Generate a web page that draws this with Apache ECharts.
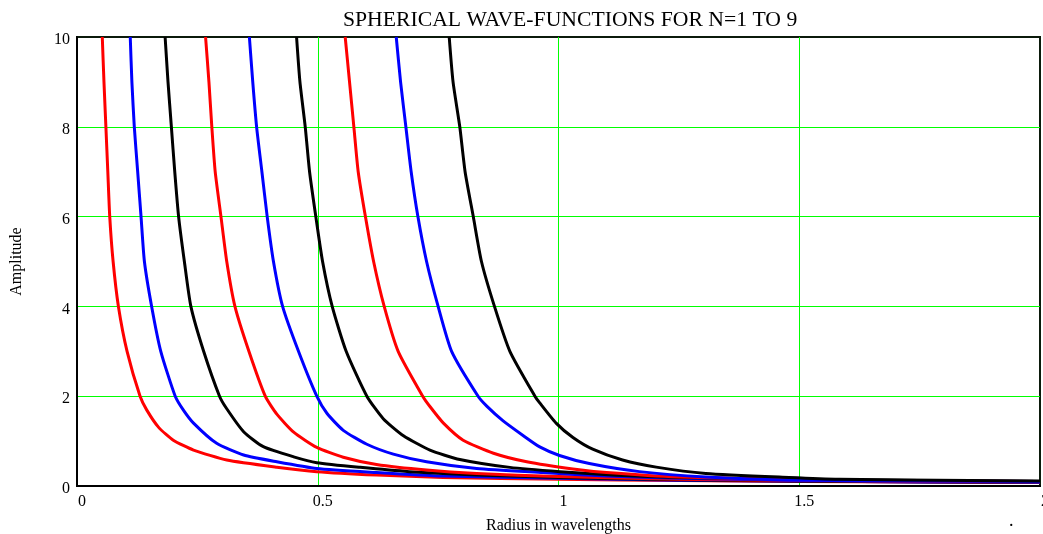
<!DOCTYPE html>
<html>
<head>
<meta charset="utf-8">
<script src="https://cdn.jsdelivr.net/npm/echarts@6/dist/echarts.min.js"></script>
<style>
  html, body { margin: 0; padding: 0; background: #ffffff; }
  #chart { width: 1043px; height: 534px; }
</style>
</head>
<body>
<div id="chart"></div>
<script>
// ---- Data: [radius in wavelengths, amplitude] ----
const titleText = 'SPHERICAL WAVE-FUNCTIONS FOR N=1 TO 9';
const xName = 'Radius in wavelengths';
const yName = 'Amplitude';
const seriesNames = ['N=1', 'N=2', 'N=3', 'N=4', 'N=5', 'N=6', 'N=7', 'N=8', 'N=9'];
const seriesColors = ['#ff0000', '#0000ff', '#000000', '#ff0000', '#0000ff', '#000000', '#ff0000', '#0000ff', '#000000'];

const n1 = [[0.0525,10],[0.056,9],[0.060,8],[0.064,7],[0.068,6],[0.075,5],[0.086,4],[0.104,3],[0.131,2],[0.145,1.69],[0.17,1.3],[0.20,1.02],[0.242,0.80],[0.311,0.58],[0.415,0.42],[0.498,0.32],[0.622,0.245],[0.76,0.19],[1.0,0.15],[1.25,0.12],[1.5,0.10],[1.75,0.09],[2.0,0.08]];
const n2 = [[0.1106,10],[0.114,9],[0.119,8],[0.126,7],[0.133,6],[0.140,5],[0.155,4],[0.174,3],[0.204,2],[0.221,1.69],[0.242,1.40],[0.29,0.95],[0.346,0.69],[0.415,0.54],[0.498,0.39],[0.622,0.30],[0.76,0.22],[1.0,0.17],[1.25,0.13],[1.5,0.11],[1.75,0.09],[2.0,0.08]];
const n3 = [[0.183,10],[0.189,9],[0.196,8],[0.203,7],[0.211,6],[0.223,5],[0.2365,4],[0.263,3],[0.296,2],[0.311,1.72],[0.346,1.21],[0.387,0.875],[0.45,0.65],[0.498,0.52],[0.588,0.415],[0.69,0.32],[0.83,0.245],[1.0,0.19],[1.25,0.14],[1.5,0.11],[1.75,0.095],[2.0,0.085]];
const n4 = [[0.267,10],[0.274,9],[0.280,8],[0.287,7],[0.299,6],[0.311,5],[0.328,4],[0.357,3],[0.391,2],[0.415,1.6],[0.45,1.2],[0.498,0.86],[0.553,0.64],[0.622,0.48],[0.726,0.356],[0.83,0.28],[1.0,0.21],[1.25,0.15],[1.5,0.12],[1.75,0.10],[2.0,0.09]];
const n5 = [[0.358,10],[0.365,9],[0.373,8],[0.384,7],[0.395,6],[0.408,5],[0.427,4],[0.460,3],[0.498,2],[0.519,1.62],[0.553,1.24],[0.602,0.93],[0.657,0.71],[0.726,0.54],[0.83,0.39],[0.968,0.30],[1.1,0.22],[1.25,0.17],[1.5,0.13],[1.75,0.11],[2.0,0.09]];
const n6 = [[0.456,10],[0.463,9],[0.474,8],[0.483,7],[0.496,6],[0.510,5],[0.530,4],[0.559,3],[0.602,2],[0.636,1.50],[0.678,1.12],[0.733,0.80],[0.795,0.59],[0.899,0.415],[1.003,0.32],[1.12,0.24],[1.25,0.19],[1.5,0.15],[1.75,0.12],[2.0,0.10]];
const n7 = [[0.557,10],[0.566,9],[0.575,8],[0.584,7],[0.599,6],[0.616,5],[0.638,4],[0.667,3],[0.718,2],[0.733,1.77],[0.761,1.40],[0.802,1.02],[0.865,0.73],[0.934,0.54],[1.03,0.38],[1.1,0.30],[1.25,0.20],[1.5,0.14],[1.75,0.11],[2.0,0.10]];
const n8 = [[0.663,10],[0.672,9],[0.683,8],[0.694,7],[0.708,6],[0.726,5],[0.750,4],[0.778,3],[0.833,2],[0.851,1.78],[0.885,1.45],[0.927,1.12],[0.961,0.87],[1.002,0.68],[1.064,0.50],[1.168,0.32],[1.306,0.20],[1.479,0.134],[1.75,0.11],[2.0,0.10]];
const n9 = [[0.773,10],[0.781,9],[0.795,8],[0.806,7],[0.823,6],[0.840,5],[0.867,4],[0.899,3],[0.951,2],[0.961,1.85],[0.995,1.40],[1.03,1.08],[1.071,0.82],[1.133,0.58],[1.203,0.42],[1.306,0.28],[1.479,0.19],[1.583,0.15],[1.853,0.12],[2.0,0.11]];
const curves = [n1, n2, n3, n4, n5, n6, n7, n8, n9];

const xTicks = { min: 0, max: 2, interval: 0.5 };
const yTicks = { min: 0, max: 10, interval: 2 };

const serif = "'Liberation Serif', 'Times New Roman', serif";
const chart = echarts.init(document.getElementById('chart'), null, { renderer: 'canvas' });

const option = {
  animation: false,
  backgroundColor: '#ffffff',
  title: {
    text: titleText,
    left: 343,
    top: 9,
    padding: 0,
    textStyle: { fontFamily: serif, fontSize: 21.7, fontWeight: 'normal', color: '#000000' }
  },
  grid: {
    left: 77, right: 3, top: 37, bottom: 48,
    containLabel: false,
    outerBoundsMode: 'none',
    show: true, borderColor: '#0b1a0b', borderWidth: 2, backgroundColor: 'transparent'
  },
  xAxis: {
    type: 'value',
    min: xTicks.min, max: xTicks.max, interval: xTicks.interval,
    name: xName,
    nameLocation: 'middle',
    nameGap: 32,
    nameTextStyle: { fontFamily: serif, fontSize: 16, color: '#000000' },
    axisLine: { show: true, lineStyle: { color: '#000000', width: 2 } },
    axisTick: { show: false },
    axisLabel: { fontFamily: serif, fontSize: 16, color: '#000000', margin: 8, padding: [0, 0, 0, 10], hideOverlap: false },
    splitLine: { show: true, showMinLine: false, showMaxLine: false, lineStyle: { color: '#00ff00', width: 1 } }
  },
  yAxis: {
    type: 'value',
    min: yTicks.min, max: yTicks.max, interval: yTicks.interval,
    name: yName,
    nameLocation: 'middle',
    nameGap: 52,
    nameRotate: 90,
    nameTextStyle: { fontFamily: serif, fontSize: 16, color: '#000000' },
    axisLine: { show: true, lineStyle: { color: '#000000', width: 2 } },
    axisTick: { show: false },
    axisLabel: { fontFamily: serif, fontSize: 16, color: '#000000', margin: 7, verticalAlign: 'top', lineHeight: 6 },
    splitLine: { show: true, showMinLine: false, showMaxLine: false, lineStyle: { color: '#00ff00', width: 1 } }
  },
  graphic: [
    { type: 'text', left: 1009, top: 512, style: { text: '.', fontFamily: serif, fontSize: 18, fill: '#000000' } }
  ],
  series: curves.map((d, i) => ({
    name: seriesNames[i],
    type: 'line',
    data: d,
    showSymbol: false,
    symbol: 'none',
    smooth: 0.2,
    clip: true,
    lineStyle: { color: seriesColors[i], width: 3, join: 'round' },
    itemStyle: { color: seriesColors[i] },
    z: 2 + i
  }))
};
chart.setOption(option);
</script>
</body>
</html>
